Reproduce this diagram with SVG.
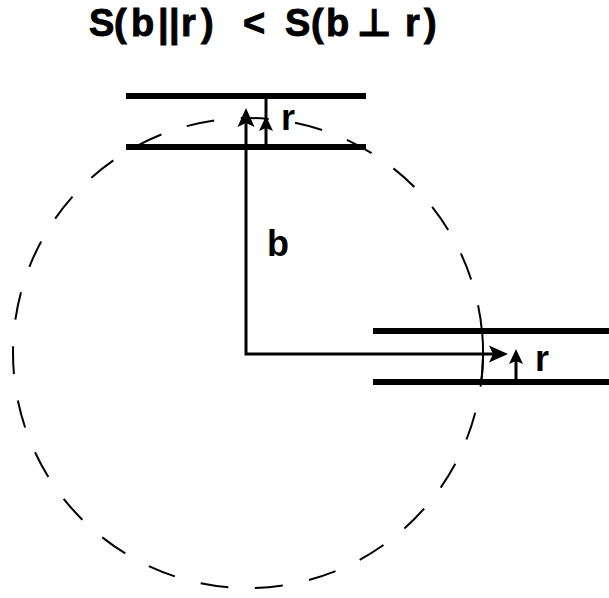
<svg xmlns="http://www.w3.org/2000/svg" width="609" height="598" viewBox="0 0 609 598">
  <style>
    .lbl { font-family: "Liberation Sans", Arial, "DejaVu Sans", sans-serif; font-weight: bold; font-size: 36px; fill: #000; }
    .ttl { stroke: #000; stroke-width: 0.9; font-size: 38px; }
    .wall { stroke: #000; stroke-width: 6; fill: none; }
    .arr { stroke: #000; stroke-width: 3; fill: none; }
    .thin { stroke: #000; stroke-width: 2; fill: none; }
    .head { fill: #000; stroke: none; }
  </style>
  <defs>
    <path id="ahBig" d="M0,0 L-19,-8.5 L-15,0 L-19,8.5 Z"/>
    <path id="ahSmall" d="M0,0 L-15,-7 L-12,0 L-15,7 Z"/>
  </defs>
  <rect width="609" height="598" fill="#fff"/>

  <g id="title">
    <text class="lbl ttl" y="36" x="89 114 131 158 169 181 201 216 243 266 285 311 326 357 405 424">S(b||r) &lt; S(b<tspan style="font-family:'DejaVu Sans',sans-serif;font-weight:bold">⊥</tspan>r)</text>
  </g>

  <g id="circle">
    <circle cx="248" cy="353" r="235" fill="none" stroke="#000" stroke-width="2" stroke-dasharray="28 26.69" stroke-dashoffset="-5.86"/>
    <path class="thin" d="M482,330 A235,235 0 0 1 481.4,381" stroke-width="1.6"/>
  </g>

  <g id="channel-top">
    <line class="wall" x1="126" y1="96" x2="366" y2="96"/>
    <line class="wall" x1="126" y1="147" x2="366" y2="147"/>
  </g>

  <g id="channel-right">
    <line class="wall" x1="373" y1="331" x2="609" y2="331"/>
    <line class="wall" x1="373" y1="382" x2="609" y2="382"/>
  </g>

  <g id="connectors">
    <path class="arr" d="M246,115 L246,354 L500,354"/>
    <use href="#ahBig" class="head" transform="translate(246,108) rotate(-90)"/>
    <use href="#ahBig" class="head" transform="translate(508,354)"/>
    <line class="arr" x1="266" y1="96" x2="266" y2="147"/>
    <use href="#ahSmall" class="head" transform="translate(266,116) rotate(-90)"/>
    <path class="arr" d="M516,382 L516,356"/>
    <use href="#ahSmall" class="head" transform="translate(516,349) rotate(-90)"/>
  </g>

  <g id="labels">
    <text class="lbl" x="267" y="256">b</text>
    <text class="lbl" x="281" y="130">r</text>
    <text class="lbl" x="535" y="371">r</text>
  </g>
</svg>
